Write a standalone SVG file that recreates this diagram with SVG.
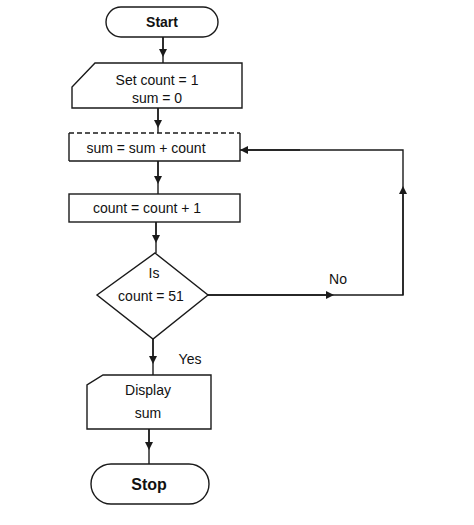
<svg xmlns="http://www.w3.org/2000/svg" width="474" height="525" viewBox="0 0 474 525">
<style>
.s{fill:#fff;stroke:#1a1a1a;stroke-width:1.4}
.c{fill:none;stroke:#1a1a1a;stroke-width:1.4}
text{font-family:"Liberation Sans",Arial,sans-serif;font-size:14px;fill:#111;text-anchor:middle}
.b{font-weight:bold;font-size:14px}
</style>
<defs>
<marker id="a" viewBox="0 0 10 10" refX="5" refY="5" markerWidth="8" markerHeight="8" orient="auto" markerUnits="userSpaceOnUse">
<path d="M0,0 L10,5 L0,10 z" fill="#1a1a1a"/>
</marker>
</defs>
<rect width="474" height="525" fill="#fff"/>
<g id="connectors">
<path class="c" d="M163,37 V63"/>
<path class="c" d="M163,37 V53" marker-end="url(#a)"/>
<path class="c" d="M158,108 V133"/>
<path class="c" d="M158,108 V124" marker-end="url(#a)"/>
<path class="c" d="M158,161 V194"/>
<path class="c" d="M158,161 V180" marker-end="url(#a)"/>
<path class="c" d="M156,222 V253"/>
<path class="c" d="M156,222 V239" marker-end="url(#a)"/>
<path class="c" d="M208,295 H403 V150 H240"/>
<path class="c" d="M208,295 H330" marker-end="url(#a)"/>
<path class="c" d="M403,295 V190" marker-end="url(#a)"/>
<path class="c" d="M300,150 H244" marker-end="url(#a)"/>
<path class="c" d="M153,339 V375"/>
<path class="c" d="M153,339 V360" marker-end="url(#a)"/>
<path class="c" d="M149,429 V464"/>
<path class="c" d="M149,429 V446" marker-end="url(#a)"/>
<text x="338" y="284">No</text>
<text x="190" y="364">Yes</text>
</g>
<g id="start">
<rect class="s" x="106" y="7" width="112" height="30" rx="15"/>
<text class="b" x="162" y="27">Start</text>
</g>
<g id="init">
<path class="s" d="M95,63 H242 V108 H72 V87 Z"/>
<text x="157" y="85">Set count = 1</text>
<text x="157" y="103">sum = 0</text>
</g>
<g id="sum">
<path class="s" d="M69,161 V133 M240,133 V161 H69"/>
<path class="c" d="M69,133 H240" stroke-dasharray="5,3"/>
<text x="146" y="153">sum = sum + count</text>
</g>
<g id="count">
<rect class="s" x="69" y="194" width="171" height="28"/>
<text x="147" y="213">count = count + 1</text>
</g>
<g id="decision">
<path class="s" d="M155,253 L208,295 L153,339 L97,295 Z"/>
<text x="154" y="278">Is</text>
<text x="151" y="301">count = 51</text>
</g>
<g id="display">
<path class="s" d="M103,375 H211 V429 H87 V385 Z"/>
<text x="148" y="395">Display</text>
<text x="148" y="418">sum</text>
</g>
<g id="stop">
<rect class="s" x="91" y="464" width="118" height="40" rx="20"/>
<text class="b" x="149" y="490" style="font-size:16px">Stop</text>
</g>
</svg>
